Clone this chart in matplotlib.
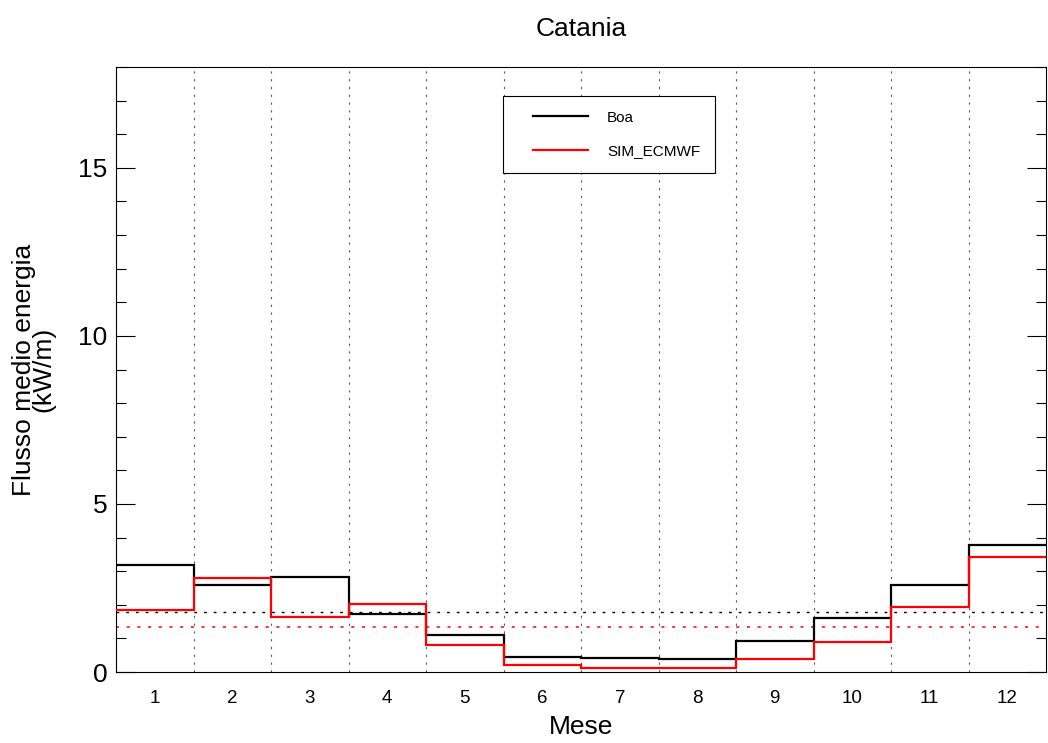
import matplotlib
matplotlib.use("Agg")
import matplotlib.pyplot as plt
import numpy as np
from matplotlib.lines import Line2D
from matplotlib.legend_handler import HandlerLine2D
from matplotlib.ticker import MultipleLocator

plt.rcParams['font.family'] = ['Liberation Sans', 'DejaVu Sans']

# monthly mean energy flux (kW/m), Catania
mesi = np.arange(1, 13)
boa = [3.17, 2.58, 2.82, 1.72, 1.09, 0.46, 0.43, 0.38, 0.92, 1.60, 2.58, 3.79]
sim_ecmwf = [1.83, 2.79, 1.65, 2.02, 0.79, 0.20, 0.13, 0.13, 0.38, 0.90, 1.92, 3.41]

titolo = "Catania"
etichette = ["Boa", "SIM_ECMWF"]

fig = plt.figure(figsize=(10.48, 7.43), dpi=100)
ax = fig.add_axes([116/1048, 1 - 672/743, 930/1048, 605/743])

bordi = np.append(mesi - 0.5, mesi[-1] + 0.5)

# month separators
for b in bordi[1:-1]:
    ax.axvline(b, color='0.35', lw=0.8, ls=(0, (2, 5)), zorder=1)

# annual means as dotted lines
ax.axhline(np.mean(boa), color='black', lw=1.0, ls=(0, (2, 5)), zorder=2)
ax.axhline(np.mean(sim_ecmwf), color='red', lw=1.1, ls=(0, (2, 5)), zorder=2)

ax.stairs(boa, bordi, color='black', lw=1.6, baseline=None, zorder=3, label=etichette[0])
ax.stairs(sim_ecmwf, bordi, color='red', lw=1.6, baseline=None, zorder=4, label=etichette[1])

ax.set_xlim(bordi[0], bordi[-1])
ax.set_ylim(0, 18)

ax.set_xticks(mesi)
ax.set_xticklabels([str(m) for m in mesi], fontsize=13.5)
ax.tick_params(axis='x', length=0, pad=13)

ax.yaxis.set_major_locator(MultipleLocator(5))
ax.yaxis.set_minor_locator(MultipleLocator(1))
ax.tick_params(axis='y', which='both', direction='in', left=True, right=True,
               labelsize=19, width=0.8, pad=6)
ax.tick_params(axis='y', which='major', length=14)
ax.tick_params(axis='y', which='minor', length=7)

for s in ax.spines.values():
    s.set_linewidth(0.8)

ax.set_title(titolo, fontsize=19, pad=22)
ax.set_xlabel("Mese", fontsize=19, labelpad=6)
ax.set_ylabel("Flusso medio energia\n(kW/m)", fontsize=19, linespacing=0.75)
ax.yaxis.set_label_coords(-0.065, 0.5)

handles = [Line2D([], [], color='black', lw=1.6), Line2D([], [], color='red', lw=1.6)]
leg = fig.legend(handles, etichette, loc='upper left',
                 bbox_to_anchor=(503/1048, 1 - 96/743), bbox_transform=fig.transFigure,
                 borderaxespad=0, fontsize=11, handlelength=4.6, handletextpad=1.25,
                 labelspacing=1.3, borderpad=0.95, fancybox=False, framealpha=1,
                 handler_map={Line2D: HandlerLine2D(xpad=1.0)})
leg.get_frame().set_edgecolor('black')
leg.get_frame().set_linewidth(0.8)

fig.savefig("out.png", dpi=100)
